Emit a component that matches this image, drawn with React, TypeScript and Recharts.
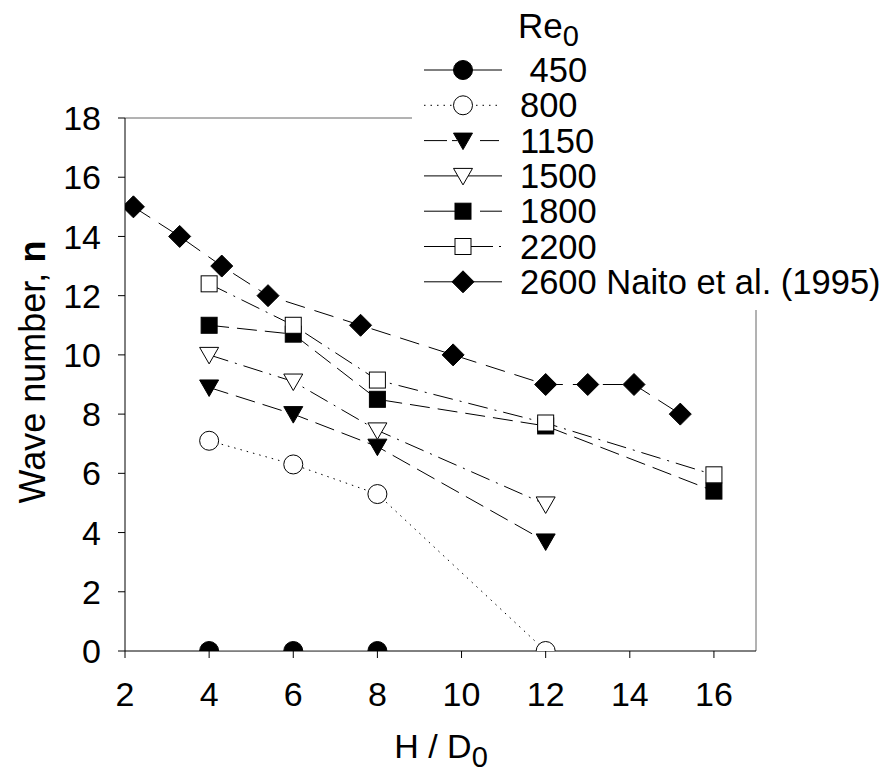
import React from 'react'
import { ScatterChart, Scatter, XAxis, YAxis, ReferenceLine, Legend, Label } from 'recharts'

// H / D0 values and wave numbers
const hdRe450 = [4, 6, 8]
const nRe450 = [0, 0, 0]
const hdRe800 = [4, 6, 8, 12]
const nRe800 = [7.1, 6.3, 5.3, 0]
const hdRe1150 = [4, 6, 8, 12]
const nRe1150 = [8.9, 8.0, 6.9, 3.7]
const hdRe1500 = [4, 6, 8, 12]
const nRe1500 = [10.0, 9.1, 7.45, 4.95]
const hdRe1800 = [4, 6, 8, 12, 16]
const nRe1800 = [11.0, 10.7, 8.5, 7.6, 5.4]
const hdRe2200 = [4, 6, 8, 12, 16]
const nRe2200 = [12.4, 11.0, 9.15, 7.7, 5.95]
const hdNaito = [2.2, 3.3, 4.3, 5.4, 7.6, 9.8, 12, 13, 14.1, 15.2]
const nNaito = [15, 14, 13, 12, 11, 10, 9, 9, 9, 8]

const legendLabels = [' 450', '800', '1150', '1500', '1800', '2200', '2600 Naito et al. (1995)']
const xTicks = [2, 4, 6, 8, 10, 12, 14, 16]
const yTicks = [0, 2, 4, 6, 8, 10, 12, 14, 16, 18]

const FONT = '"Liberation Sans", Arial, sans-serif'

type Kind = 'dot' | 'ring' | 'tri' | 'triOpen' | 'sq' | 'sqOpen' | 'diamond'

const toPoints = (xs: number[], ys: number[]) => xs.map((x, i) => ({ x, y: ys[i] }))

function Marker({ kind, cx, cy }: { kind: Kind; cx: number; cy: number }) {
  const common = { stroke: '#000', strokeWidth: 1 }
  switch (kind) {
    case 'dot':
      return <circle cx={cx} cy={cy} r={9.5} fill="#000" {...common} />
    case 'ring':
      return <circle cx={cx} cy={cy} r={9.5} fill="#fff" {...common} />
    case 'tri':
    case 'triOpen':
      return (
        <polygon
          points={`${cx - 9.5},${cy - 7.5} ${cx + 9.5},${cy - 7.5} ${cx},${cy + 9}`}
          fill={kind === 'tri' ? '#000' : '#fff'}
          {...common}
        />
      )
    case 'sq':
    case 'sqOpen':
      return (
        <rect x={cx - 8} y={cy - 8} width={16} height={16} fill={kind === 'sq' ? '#000' : '#fff'} {...common} />
      )
    default:
      return (
        <polygon
          points={`${cx},${cy - 11} ${cx + 11},${cy} ${cx},${cy + 11} ${cx - 11},${cy}`}
          fill="#000"
          {...common}
        />
      )
  }
}

const series = [
  { key: 'r450', data: toPoints(hdRe450, nRe450), kind: 'dot' as Kind, stroke: '#9a9a9a', width: 2, dash: undefined, segs: [[0, 78]], legDash: undefined },
  { key: 'r800', data: toPoints(hdRe800, nRe800), kind: 'ring' as Kind, stroke: '#000', width: 1, dash: '1.5 5', segs: [[0, 78]], legDash: '1.5 5' },
  { key: 'r1150', data: toPoints(hdRe1150, nRe1150), kind: 'tri' as Kind, stroke: '#000', width: 1, dash: '20 8', segs: [[0, 23], [28, 33], [56, 75]], legDash: undefined },
  { key: 'r1500', data: toPoints(hdRe1500, nRe1500), kind: 'triOpen' as Kind, stroke: '#000', width: 1, dash: '20 7 2 7', segs: [[0, 78]], legDash: undefined },
  { key: 'r1800', data: toPoints(hdRe1800, nRe1800), kind: 'sq' as Kind, stroke: '#000', width: 1, dash: '20 8', segs: [[0, 33], [56, 78]], legDash: undefined },
  { key: 'r2200', data: toPoints(hdRe2200, nRe2200), kind: 'sqOpen' as Kind, stroke: '#000', width: 1, dash: '20 7 2 7', segs: [[0, 31], [47, 69], [75, 77]], legDash: undefined },
  { key: 'naito', data: toPoints(hdNaito, nNaito), kind: 'diamond' as Kind, stroke: '#000', width: 1, dash: '20 10', segs: [[0, 78]], legDash: undefined },
]

function LegendBox() {
  return (
    <svg width={473} height={310} style={{ display: 'block', background: '#fff' }}>
      <text x={106} y={38} fontSize={35} fontFamily={FONT} fill="#000">
        Re
        <tspan fontSize={29} dy={8}>0</tspan>
      </text>
      {series.map((s, i) => {
        const cy = 70 + i * 35.3
        return (
          <g key={s.key}>
            {s.segs.map(([a, b], j) => (
              <line
                key={j}
                x1={12 + a}
                x2={12 + b}
                y1={cy}
                y2={cy}
                stroke="#000"
                strokeWidth={1}
                strokeDasharray={s.legDash}
              />
            ))}
            <Marker kind={s.kind} cx={51} cy={cy} />
            <text
              x={108}
              y={cy + 12}
              fontSize={34.5}
              fontFamily={FONT}
              fill="#000"
              style={{ whiteSpace: 'pre' }}
            >
              {legendLabels[i]}
            </text>
          </g>
        )
      })}
    </svg>
  )
}

export default function App() {
  const tickStyle = { fill: '#000', fontSize: 34, fontFamily: FONT }
  return (
    <div style={{ position: 'absolute', left: 0, top: 0, background: '#fff' }}>
      <ScatterChart width={885} height={774} margin={{ top: 118, right: 129, bottom: 0, left: 0 }}>
        <XAxis
          type="number"
          dataKey="x"
          domain={[2, 17]}
          ticks={xTicks}
          allowDataOverflow
          tickSize={7}
          tickMargin={24}
          height={123}
          tick={tickStyle}
          axisLine={{ stroke: '#000' }}
          tickLine={{ stroke: '#000' }}
        >
          <Label
            content={() => (
              <text x={441} y={758} textAnchor="middle" fontSize={34} fontFamily={FONT} fill="#000">
                H / D
                <tspan fontSize={29} dy={9}>0</tspan>
              </text>
            )}
          />
        </XAxis>
        <YAxis
          type="number"
          dataKey="y"
          domain={[0, 18]}
          ticks={yTicks}
          allowDataOverflow
          width={125}
          tickSize={7}
          tickMargin={17}
          tick={tickStyle}
          axisLine={{ stroke: '#000' }}
          tickLine={{ stroke: '#000' }}
        >
          <Label
            content={() => (
              <text
                x={45}
                y={372}
                transform="rotate(-90 45 372)"
                textAnchor="middle"
                fontSize={36}
                fontFamily={FONT}
                fill="#000"
              >
                Wave number, <tspan fontWeight="bold">n</tspan>
              </text>
            )}
          />
        </YAxis>
        <ReferenceLine y={18} stroke="#666" strokeWidth={1} ifOverflow="visible" />
        <ReferenceLine x={17} stroke="#666" strokeWidth={1} ifOverflow="visible" />
        {series.map((s) => (
          <Scatter
            key={s.key}
            data={s.data}
            isAnimationActive={false}
            fill="#000"
            line={{ stroke: s.stroke, strokeWidth: s.width, strokeDasharray: s.dash }}
            shape={(p: any) => <Marker kind={s.kind} cx={p.cx} cy={p.cy} />}
          />
        ))}
        <Legend
          layout="vertical"
          align="center"
          verticalAlign="middle"
          wrapperStyle={{ left: 412, top: 0, width: 473, height: 310 }}
          content={() => <LegendBox />}
        />
      </ScatterChart>
    </div>
  )
}
